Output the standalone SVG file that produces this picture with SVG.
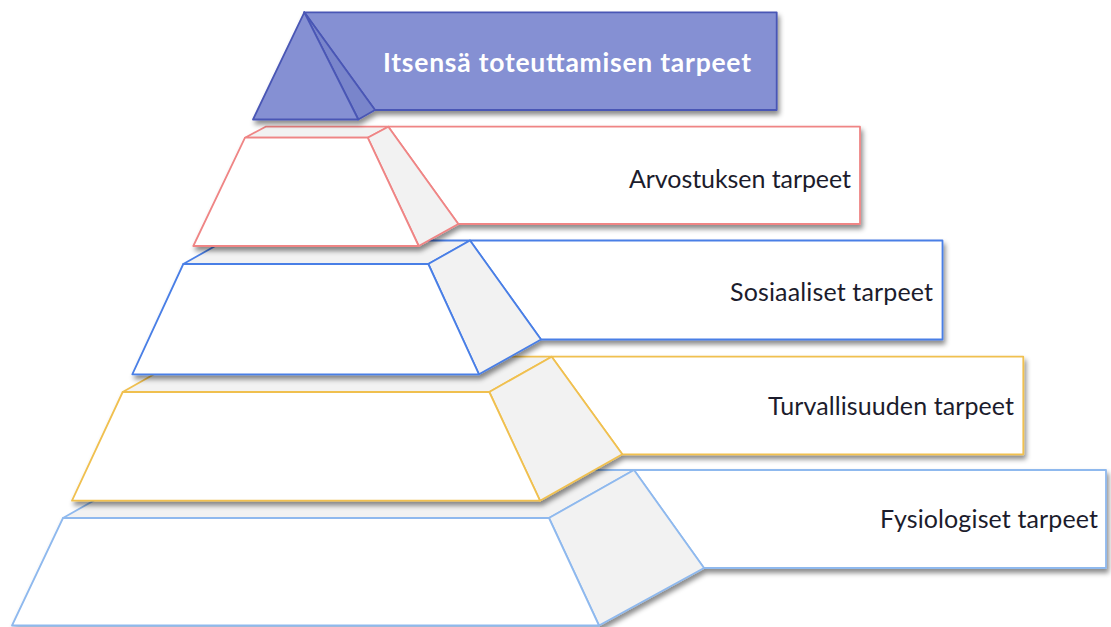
<svg xmlns="http://www.w3.org/2000/svg" width="1111" height="627" viewBox="0 0 1111 627">
<defs>
<filter id="sh" x="-10%" y="-10%" width="125%" height="135%">
<feDropShadow dx="2" dy="4" stdDeviation="2.5" flood-color="#000" flood-opacity="0.45"/>
</filter>
<style>
.face{fill:#ffffff;stroke-width:1.8;stroke-linejoin:round}
.side{fill:#f2f2f2;stroke-width:1.8;stroke-linejoin:round}
.lbl{font-family:Lato,"Open Sans",sans-serif;font-size:25px;fill:#1c1c2c;text-anchor:start}
.l5 *{stroke:#8fb9ee}
.l4 *{stroke:#f0c050}
.l3 *{stroke:#4a7fe6}
.l2 *{stroke:#ef8585}
.l1 *{stroke:#4a57b5}
</style>
</defs>
<rect width="1111" height="627" fill="#ffffff"/>

<g id="level5" class="l5" filter="url(#sh)">
<polygon class="side" points="63,518 549,518 634,470 148,470"/>
<polygon class="face" points="634,470 1106,470 1106,568 704,568"/>
<polygon class="side" points="549,518 634,470 704,568 599,625.5"/>
<polygon class="face" points="63,518 549,518 599,625.5 12,625.5"/>
</g>
<g id="level4" class="l4" filter="url(#sh)">
<polygon class="side" points="122.7,392 489.3,392 551.7,356.7 185,356.7"/>
<polygon class="face" points="551.7,356.7 1023.3,356.7 1023.3,454.3 622.3,454.3"/>
<polygon class="side" points="489.3,392 551.7,356.7 622.3,454.3 540,500.7"/>
<polygon class="face" points="122.7,392 489.3,392 540,500.7 72,500.7"/>
</g>
<g id="level3" class="l3" filter="url(#sh)">
<polygon class="side" points="183.3,264 428.3,264 470,240.5 225,240.5"/>
<polygon class="face" points="470,240.5 942.5,240.5 942.5,339.5 541,339.5"/>
<polygon class="side" points="428.3,264 470,240.5 541,339.5 479,374.3"/>
<polygon class="face" points="183.3,264 428.3,264 479,374.3 132.3,374.3"/>
</g>
<g id="level2" class="l2" filter="url(#sh)">
<polygon class="side" points="245,137.7 367.7,137.7 388.3,126.7 265.6,126.7"/>
<polygon class="face" points="388.3,126.7 860,126.7 860,224 458.3,224"/>
<polygon class="side" points="367.7,137.7 388.3,126.7 458.3,224 418.7,246"/>
<polygon class="face" points="245,137.7 367.7,137.7 418.7,246 193.3,246"/>
</g>
<g id="level1" class="l1" filter="url(#sh)">
<polygon points="304.3,12.3 776.7,12.3 776.7,110 375,110" fill="#8590d3" stroke-width="1.8" stroke-linejoin="round"/>
<polygon points="304.3,12.3 358.3,119.5 375,110" fill="#7985cb" stroke-width="1.8" stroke-linejoin="round"/>
<polygon points="304.3,12.3 358.3,119.5 253,119.5" fill="#8590d3" stroke-width="1.8" stroke-linejoin="round"/>
</g>

<g id="labels">
<text x="383" y="72" style="font-family:Lato,'Open Sans',sans-serif;font-size:26.5px;font-weight:bold;fill:#ffffff" textLength="368">Itsensä toteuttamisen tarpeet</text>
<text class="lbl" x="629" y="188" textLength="222">Arvostuksen tarpeet</text>
<text class="lbl" x="730" y="301" textLength="203">Sosiaaliset tarpeet</text>
<text class="lbl" x="768" y="415" textLength="246">Turvallisuuden tarpeet</text>
<text class="lbl" x="880" y="528" textLength="218">Fysiologiset tarpeet</text>
</g>
</svg>
